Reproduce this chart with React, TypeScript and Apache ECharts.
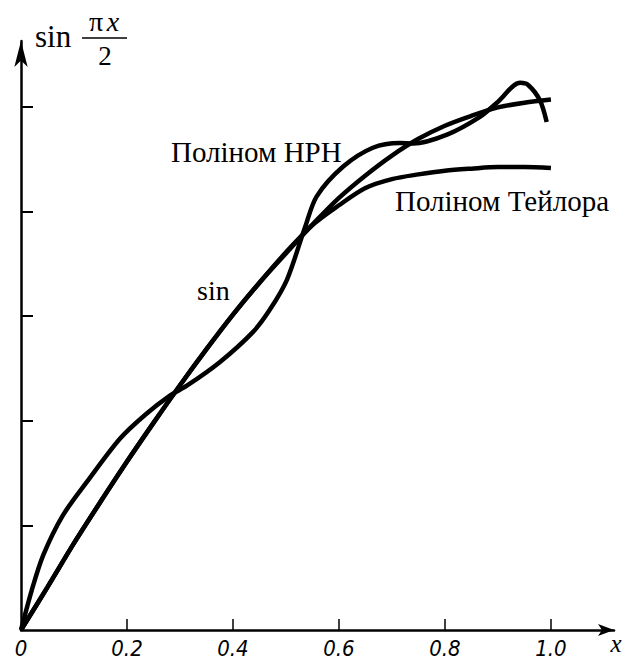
import React, { useEffect, useRef } from "react";
import * as echarts from "echarts";

// ---- data ----
const xTicks = [0.2, 0.4, 0.6, 0.8, 1.0];
const xTickLabelValues = [0, 0.2, 0.4, 0.6, 0.8, 1.0];
const xTickLabels = ["0", "0.2", "0.4", "0.6", "0.8", "1.0"];
const yTicks = [0.2, 0.4, 0.6, 0.8, 1.0];

const xSin = [0, 0.05, 0.1, 0.15, 0.2, 0.25, 0.3, 0.35, 0.4, 0.45, 0.5, 0.55, 0.6, 0.65, 0.7, 0.75, 0.8, 0.85, 0.9, 0.95, 1.0];
const ySin = [0, 0.082, 0.166, 0.245, 0.322, 0.396, 0.468, 0.537, 0.603, 0.664, 0.722, 0.775, 0.826, 0.869, 0.907, 0.939, 0.964, 0.983, 0.999, 1.008, 1.014];

const xTaylor = [0, 0.05, 0.1, 0.15, 0.2, 0.25, 0.3, 0.35, 0.4, 0.45, 0.5, 0.55, 0.6, 0.65, 0.7, 0.75, 0.8, 0.85, 0.9, 0.95, 1.0];
const yTaylor = [0, 0.082, 0.166, 0.245, 0.322, 0.396, 0.468, 0.537, 0.603, 0.664, 0.72, 0.774, 0.812, 0.845, 0.862, 0.871, 0.878, 0.882, 0.885, 0.885, 0.883];

const xHrn = [0, 0.02, 0.042, 0.079, 0.125, 0.187, 0.235, 0.281, 0.313, 0.375, 0.438, 0.47, 0.502, 0.536, 0.558, 0.608, 0.664, 0.715, 0.74, 0.804, 0.866, 0.898, 0.942, 0.957, 0.979, 0.992];
const yHrn = [0, 0.075, 0.143, 0.219, 0.284, 0.366, 0.412, 0.448, 0.467, 0.512, 0.57, 0.613, 0.67, 0.77, 0.829, 0.886, 0.922, 0.931, 0.93, 0.947, 0.981, 1.008, 1.046, 1.042, 1.013, 0.971];

const labelHrn = "Поліном НРН";
const labelTaylor = "Поліном Тейлора";
const labelSin = "sin";

const pairs = (xs: number[], ys: number[]) => xs.map((x, i) => [x, ys[i]]);

const TICKFONT = "DejaVu Sans Condensed";

const txt = (x: number, y: number, text: string, size: number, italic = false, align = "left") => ({
  type: "text",
  x,
  y,
  style: {
    text,
    font: `${italic ? "italic " : ""}${size}px serif`,
    fill: "#000",
    textAlign: align,
    textVerticalAlign: "middle",
  },
});

export default function App() {
  const ref = useRef<HTMLDivElement>(null);
  useEffect(() => {
    if (!ref.current) return;
    const chart = echarts.init(ref.current, null, { renderer: "svg" });
    const lineStyle = { color: "#000", width: 4.5 };
    const option: any = {
      animation: false,
      backgroundColor: "#fff",
      grid: { left: 21, top: 41, right: 11, bottom: 27, containLabel: false },
      xAxis: {
        type: "value",
        min: 0,
        max: 1.119,
        axisLine: { show: true, onZero: false, lineStyle: { color: "#000", width: 2.5 }, symbol: ["none", "arrow"], symbolSize: [9, 16] },
        axisTick: { show: true, inside: true, length: 11, customValues: xTicks, lineStyle: { color: "#000", width: 1.5 } },
        axisLabel: {
          show: true,
          customValues: xTickLabelValues,
          formatter: (v: number) => {
            const i = xTickLabelValues.findIndex((t) => Math.abs(t - v) < 1e-6);
            return i >= 0 ? xTickLabels[i] : "";
          },
          color: "#000",
          fontFamily: TICKFONT,
          fontStyle: "italic",
          fontSize: 22,
          margin: 7,
        },
        splitLine: { show: false },
      },
      yAxis: {
        type: "value",
        min: 0,
        max: 1.126,
        axisLine: { show: true, onZero: false, lineStyle: { color: "#000", width: 2.5 }, symbol: ["none", "arrow"], symbolSize: [10, 26] },
        axisTick: { show: true, inside: true, length: 12, customValues: yTicks, lineStyle: { color: "#000", width: 2 } },
        axisLabel: { show: false },
        splitLine: { show: false },
      },
      series: [
        { type: "line", name: "sin", data: pairs(xSin, ySin), smooth: 0.3, symbol: "none", lineStyle, z: 3 },
        { type: "line", name: "Taylor", data: pairs(xTaylor, yTaylor), smooth: 0.3, symbol: "none", lineStyle, z: 3 },
        { type: "line", name: "HRN", data: pairs(xHrn, yHrn), smooth: 0.3, symbol: "none", lineStyle, z: 3 },
      ],
      graphic: [
        txt(35, 36, "sin", 31),
        txt(96, 21, "π", 28, false, "center"),
        txt(113, 21, "x", 28, true, "center"),
        { type: "line", shape: { x1: 82, y1: 38, x2: 127, y2: 38 }, style: { stroke: "#000", lineWidth: 1.5 } },
        txt(105, 56, "2", 27, false, "center"),
        txt(616, 643, "x", 25, true, "center"),
        txt(171, 152, labelHrn, 29),
        txt(395, 201, labelTaylor, 29),
        txt(197, 290, labelSin, 28),
      ],
    };
    chart.setOption(option);
    return () => chart.dispose();
  }, []);
  return <div ref={ref} style={{ position: "absolute", left: 0, top: 0, width: 625, height: 659 }} />;
}
